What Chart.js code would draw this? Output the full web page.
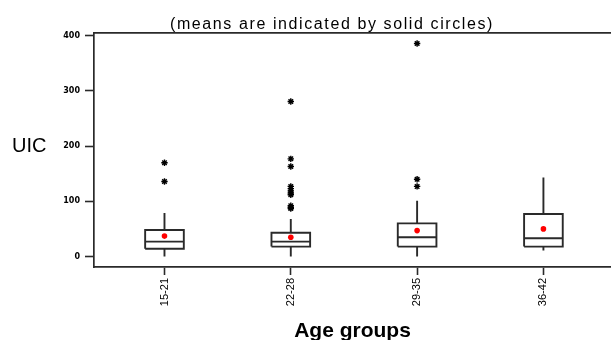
<!DOCTYPE html>
<html>
<head>
<meta charset="utf-8">
<script src="https://cdn.jsdelivr.net/npm/chart.js@4"></script>
<style>
    html, body { margin: 0; padding: 0; background: #fff; }
    #wrap { width: 611px; height: 340px; }
</style>
</head>
<body>
<div id="wrap"><canvas id="chartUIC" width="611" height="340"></canvas></div>
<script>
// Dados (UIC por faixa etaria)
const ageGroups = ['15-21', '22-28', '29-35', '36-42'];
const lowWhisker = [0, 0, 0, 11];
const q1Values = [14, 18, 18, 18];
const medianValues = [27, 27, 35, 33];
const q3Values = [48, 43, 60, 77];
const highWhisker = [79, 68, 101, 143];
const meanValues = [37, 35, 47, 50];
const outlierValues = [
    [170, 136],
    [281, 177, 163, 127, 123, 119, 115, 112, 92, 89, 87],
    [386, 140, 127],
    []
];
const yTickValues = [0, 100, 200, 300, 400];

const chartTitle = '(means are indicated by solid circles)';
const yLabel = 'UIC';
const xLabel = 'Age groups';

const halfBox = 0.153;
const lineColor = '#2a2a2a';

function montarCaixas() {
    const pts = [];
    ageGroups.forEach((g, i) => {
        const l = i - halfBox, r = i + halfBox;
        pts.push({ x: l, y: q1Values[i] }, { x: r, y: q1Values[i] }, { x: r, y: q3Values[i] },
                 { x: l, y: q3Values[i] }, { x: l, y: q1Values[i] }, { x: i, y: null });
        pts.push({ x: l, y: medianValues[i] }, { x: r, y: medianValues[i] }, { x: i, y: null });
    });
    return pts;
}

function montarBigodes() {
    const pts = [];
    ageGroups.forEach((g, i) => {
        pts.push({ x: i, y: q3Values[i] }, { x: i, y: highWhisker[i] }, { x: i, y: null });
        pts.push({ x: i, y: lowWhisker[i] }, { x: i, y: q1Values[i] }, { x: i, y: null });
    });
    return pts;
}

function montarOutliers() {
    const pts = [];
    outlierValues.forEach((lista, i) => lista.forEach(v => pts.push({ x: i, y: v })));
    return pts;
}

// textos desenhados com espacamento entre letras
const textoExtra = {
    id: 'textoExtra',
    afterDraw(chart) {
        const ctx = chart.ctx;
        ctx.save();
        ctx.fillStyle = '#000';
        ctx.font = '16px "Liberation Sans", Arial, sans-serif';
        ctx.letterSpacing = '1.6px';
        ctx.textAlign = 'center';
        ctx.textBaseline = 'alphabetic';
        ctx.fillText(chartTitle, 332, 28.5);
        ctx.letterSpacing = '0px';
        ctx.font = '20px "Liberation Sans", Arial, sans-serif';
        ctx.textAlign = 'left';
        ctx.fillText(yLabel, 12, 151.5);
        ctx.restore();
    }
};

const ctx = document.getElementById('chartUIC').getContext('2d');
new Chart(ctx, {
    type: 'scatter',
    data: {
        datasets: [
            {
                data: montarCaixas(),
                showLine: true,
                borderColor: lineColor,
                borderWidth: 1.9,
                pointRadius: 0,
                fill: false
            },
            {
                data: montarBigodes(),
                showLine: true,
                borderColor: lineColor,
                borderWidth: 1.9,
                pointRadius: 0,
                fill: false
            },
            {
                data: montarOutliers(),
                pointStyle: 'star',
                pointRadius: 3.2,
                borderColor: '#000',
                borderWidth: 1.4,
                backgroundColor: '#000'
            },
            {
                data: meanValues.map((v, i) => ({ x: i, y: v })),
                pointStyle: 'circle',
                pointRadius: 2.8,
                borderWidth: 0,
                backgroundColor: '#ff0000'
            }
        ]
    },
    options: {
        responsive: false,
        animation: false,
        events: [],
        layout: { autoPadding: false, padding: { top: 33, left: 0, right: 0, bottom: 0 } },
        plugins: {
            legend: { display: false },
            tooltip: { enabled: false }
        },
        scales: {
            x: {
                type: 'linear',
                position: 'bottom',
                min: -0.558,
                max: 3.535,
                afterFit: s => { s.height = 73; },
                afterBuildTicks: s => { s.ticks = ageGroups.map((g, i) => ({ value: i })); },
                ticks: {
                    autoSkip: false,
                    minRotation: 90,
                    maxRotation: 90,
                    padding: 3,
                    color: '#000',
                    font: { family: "'Liberation Sans', Arial, sans-serif", size: 11 },
                    callback: v => ageGroups[v]
                },
                grid: {
                    drawOnChartArea: false,
                    drawTicks: true,
                    tickLength: 8,
                    tickColor: lineColor,
                    tickWidth: 1.6
                },
                border: { display: true, color: lineColor, width: 1.7 },
                title: {
                    display: true,
                    text: xLabel,
                    color: '#000',
                    padding: 0,
                    font: { family: "'Liberation Sans', Arial, sans-serif", size: 21, weight: 'bold', lineHeight: 0.85 }
                }
            },
            xTop: {
                type: 'linear',
                position: 'top',
                min: -0.558,
                max: 3.535,
                afterFit: s => { s.height = 0; },
                ticks: { display: false },
                grid: { drawOnChartArea: false, drawTicks: false },
                border: { display: true, color: lineColor, width: 1.7 }
            },
            y: {
                min: -19,
                max: 405,
                afterFit: s => { s.width = 94; },
                afterBuildTicks: s => { s.ticks = yTickValues.map(v => ({ value: v })); },
                ticks: {
                    padding: 5,
                    color: '#000',
                    font: { family: "'DejaVu Sans', sans-serif", size: 8, weight: 'bold' }
                },
                grid: {
                    drawOnChartArea: false,
                    drawTicks: true,
                    tickLength: 9,
                    tickColor: lineColor,
                    tickWidth: 1.6
                },
                border: { display: true, color: lineColor, width: 1.7 }
            }
        }
    },
    plugins: [textoExtra]
});
</script>
</body>
</html>
